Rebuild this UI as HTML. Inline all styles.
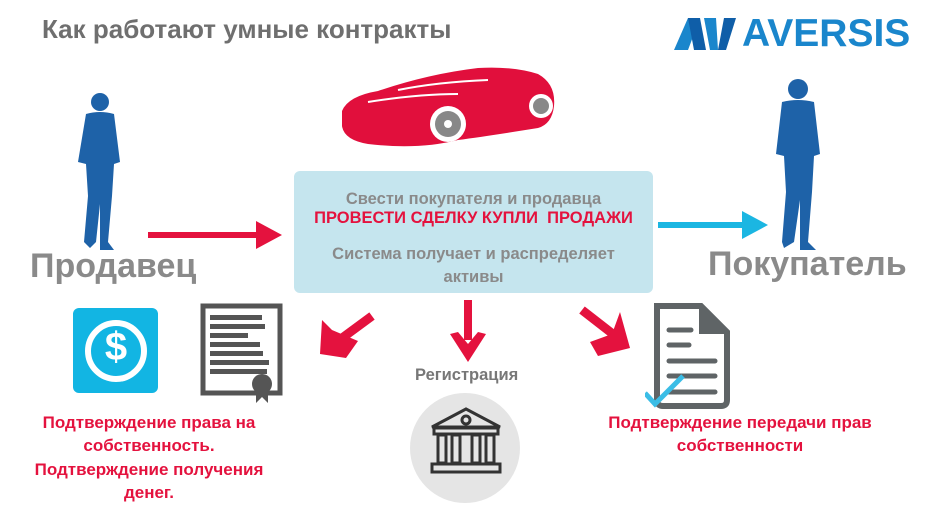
<!DOCTYPE html>
<html><head><meta charset="utf-8"><style>
body{margin:0;width:936px;height:524px;background:#fff;position:relative;overflow:hidden;font-family:"Liberation Sans","DejaVu Sans",sans-serif;font-weight:bold}
.t{position:absolute;white-space:nowrap}
.c{text-align:center}
.red{color:#e4123e}
.gray{color:#8a8a8a}
</style></head><body>
<div class="t" style="left:42px;top:14px;font-size:26px;color:#6f6f6f">Как работают умные контракты</div>
<svg class="t" style="left:674px;top:16px" width="62" height="36" viewBox="0 0 62 36">
<polygon points="0,34 14,2 26,2 14,34" fill="#1a86cc"/><polygon points="14,2 26,2 32,34 20,34" fill="#0f5ea8"/>
<polygon points="30,2 42,2 44,34 36,34" fill="#1a86cc"/><polygon points="44,34 50,2 62,2 52,34" fill="#0f5ea8"/></svg>
<div class="t" style="left:742px;top:12px;font-size:39px;color:#1a86cc">AVERSIS</div>

<svg class="t" style="left:70px;top:92px" width="60" height="162" viewBox="0 0 60 162" fill="#1e62a8">
<circle cx="30" cy="10" r="9"/><path d="M16 22 Q30 18 44 22 L50 70 L44 72 L42 104 L38 150 L44 158 L30 158 L30 112 L26 150 L20 156 L14 150 L18 104 L16 72 L8 70 Z"/></svg>
<div class="t" style="left:30px;top:247px;font-size:34px;color:#8a8a8a">Продавец</div>
<svg class="t" style="left:768px;top:78px" width="62" height="178" viewBox="0 0 62 178" fill="#1e62a8">
<circle cx="30" cy="11" r="10"/><path d="M14 24 Q30 20 46 24 L52 76 L46 78 L44 114 L40 164 L48 172 L32 172 L32 122 L26 164 L16 170 L14 164 L18 114 L16 78 L8 76 Z"/></svg>
<div class="t" style="left:708px;top:245px;font-size:34px;color:#8a8a8a">Покупатель</div>

<svg class="t" style="left:338px;top:66px" width="222" height="88" viewBox="0 0 222 88">
<path d="M4 45 Q10 30 40 25 Q90 8 140 2 Q175 0 200 8 Q218 18 216 40 Q214 58 200 62 Q150 70 120 74 Q80 84 30 78 Q6 74 4 60 Z" fill="#e10f3c"/>
<circle cx="110" cy="58" r="18" fill="#fff"/><circle cx="110" cy="58" r="13" fill="#888"/><circle cx="110" cy="58" r="4" fill="#fff"/>
<circle cx="203" cy="40" r="12" fill="#fff"/><circle cx="203" cy="40" r="8" fill="#888"/>
<path d="M30 36 Q80 28 120 28" stroke="#fff" stroke-width="2" fill="none"/>
<path d="M60 24 Q100 16 150 14" stroke="#fff" stroke-width="2" fill="none"/></svg>

<div class="t" style="left:294px;top:171px;width:359px;height:122px;background:#c5e5ee;border-radius:6px"></div>
<div class="t c gray" style="left:294px;width:359px;top:190px;font-size:16.5px">Свести покупателя и продавца</div>
<div class="t c red" style="left:294px;width:359px;top:209px;font-size:16.5px">ПРОВЕСТИ СДЕЛКУ КУПЛИ&nbsp; ПРОДАЖИ</div>
<div class="t c gray" style="left:294px;width:359px;top:243px;font-size:16.5px;line-height:23px">Система получает и распределяет<br>активы</div>

<svg class="t" style="left:0;top:0" width="936" height="524">
<line x1="148" y1="235" x2="262" y2="235" stroke="#e4123e" stroke-width="6"/>
<polygon points="282,235 256,221 256,249" fill="#e4123e"/>
<line x1="658" y1="225" x2="745" y2="225" stroke="#1bb6e2" stroke-width="6"/>
<polygon points="768,225 742,211 742,239" fill="#1bb6e2"/>
<line x1="372" y1="316" x2="334" y2="344" stroke="#e4123e" stroke-width="9"/>
<polygon points="320,354 322,320 332,330 358,341 346,358" fill="#e4123e"/>
<line x1="468" y1="300" x2="468" y2="340" stroke="#e4123e" stroke-width="8"/>
<polygon points="468,362 450,334 458,332 468,344 478,332 486,334" fill="#e4123e"/>
<line x1="582" y1="310" x2="618" y2="338" stroke="#e4123e" stroke-width="9"/>
<polygon points="630,348 620,312 612,334 590,342 598,356" fill="#e4123e"/>
</svg>

<div class="t" style="left:73px;top:308px;width:85px;height:85px;background:#12b5e3;border-radius:6px"></div>
<div class="t" style="left:85px;top:320px;width:50px;height:50px;border:6px solid #fff;border-radius:50%"></div>
<div class="t c" style="left:85px;top:322px;width:62px;font-size:40px;color:#fff;line-height:50px">$</div>

<svg class="t" style="left:200px;top:303px" width="84" height="100" viewBox="0 0 84 100">
<rect x="3" y="3" width="77" height="87" fill="none" stroke="#555" stroke-width="5"/>
<g fill="#555"><rect x="10" y="12" width="52" height="5"/><rect x="10" y="21" width="55" height="5"/><rect x="10" y="30" width="38" height="5"/><rect x="10" y="39" width="50" height="5"/><rect x="10" y="48" width="53" height="5"/><rect x="10" y="57" width="59" height="5"/><rect x="10" y="66" width="57" height="5"/>
<circle cx="62" cy="81" r="10"/><polygon points="56,88 56,100 62,94 68,100 68,88"/></g></svg>

<div class="t" style="left:415px;top:366px;font-size:16.5px;color:#777">Регистрация</div>
<div class="t" style="left:410px;top:393px;width:110px;height:110px;border-radius:50%;background:#e5e5e5"></div>
<svg class="t" style="left:428px;top:405px" width="76" height="72" viewBox="0 0 76 72" fill="none" stroke="#333" stroke-width="3">
<path d="M4 22 L38 4 L72 22 Z"/><circle cx="38" cy="15" r="4"/>
<rect x="6" y="23" width="64" height="6"/>
<rect x="10" y="30" width="8" height="28"/><rect x="24" y="30" width="8" height="28"/><rect x="44" y="30" width="8" height="28"/><rect x="58" y="30" width="8" height="28"/>
<rect x="4" y="59" width="68" height="8"/></svg>

<svg class="t" style="left:645px;top:300px" width="92" height="112" viewBox="0 0 92 112">
<path d="M12 6 L56 6 L82 32 L82 100 Q82 106 76 106 L18 106 Q12 106 12 100 Z" fill="none" stroke="#5f6466" stroke-width="6"/>
<path d="M54 6 L54 34 L82 34" fill="#5f6466"/>
<g stroke="#5f6466" stroke-width="5" stroke-linecap="round"><line x1="24" y1="30" x2="46" y2="30"/><line x1="24" y1="45" x2="44" y2="45"/><line x1="24" y1="61" x2="70" y2="61"/><line x1="24" y1="76" x2="70" y2="76"/><line x1="24" y1="92" x2="70" y2="92"/></g>
<path d="M0 93 L10 104 L38 76" fill="none" stroke="#3bbde6" stroke-width="5"/></svg>

<div class="t c red" style="left:10px;width:278px;top:411px;font-size:17px;line-height:23px">Подтверждение права на<br>собственность.</div>
<div class="t c red" style="left:10px;width:278px;top:458px;font-size:17px;line-height:23px">Подтверждение получения<br>денег.</div>
<div class="t c red" style="left:580px;width:320px;top:411px;font-size:17px;line-height:23px">Подтверждение передачи прав<br>собственности</div>
</body></html>
